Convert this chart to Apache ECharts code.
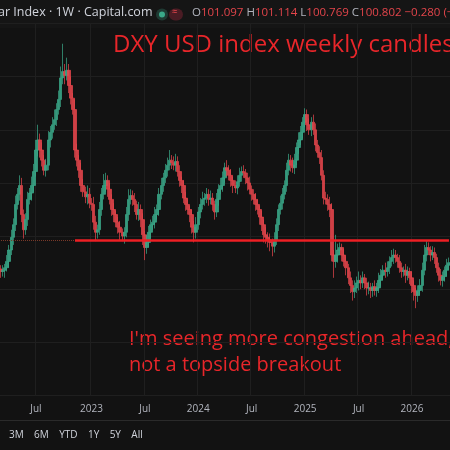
<!DOCTYPE html>
<html><head><meta charset="utf-8">
<script src="https://cdn.jsdelivr.net/npm/echarts@6/dist/echarts.min.js"></script>
<style>html,body{margin:0;padding:0;background:#121212}#c{width:450px;height:450px}</style>
</head><body><div id="c"></div>
<script>
const startDate = '2022-03-04';
const closes = [
98.0,98.1,98.3,98.8,99.7,100.7,101.7,103.3,104.1,104.8,
102.5,101.3,102.1,103.7,104.2,104.8,105.9,107.6,108.4,107.6,
106.8,106.0,106.4,108.4,109.0,109.6,110.0,110.8,111.6,113.3,
113.8,113.5,113.9,112.7,111.7,110.8,107.6,106.8,106.0,104.8,
104.3,103.9,104.1,103.4,103.3,101.9,101.1,101.3,102.9,104.1,
104.8,105.2,104.5,103.7,102.9,102.5,101.9,101.5,101.1,100.8,
101.1,102.5,103.7,104.0,103.7,103.3,102.5,102.9,102.1,100.9,
99.9,100.3,101.1,101.7,101.9,102.5,102.9,104.1,104.8,105.4,
106.0,106.4,106.8,106.6,106.4,106.7,105.9,105.2,104.8,103.8,
103.3,102.9,102.5,101.5,101.1,101.7,102.7,103.3,103.7,103.8,
104.1,103.7,103.8,103.3,102.7,103.7,104.5,104.8,105.4,106.2,
106.0,105.6,105.2,104.8,104.6,105.1,105.6,105.9,105.8,105.4,
105.0,104.5,104.1,103.7,103.3,102.9,102.3,101.7,100.9,100.7,
100.5,100.3,100.0,100.5,101.7,102.9,103.4,104.1,104.8,106.0,
106.8,106.4,106.2,106.8,107.8,108.4,109.0,109.8,110.4,109.6,
109.2,109.8,109.2,108.0,107.4,107.0,105.6,103.8,103.7,103.3,
102.9,99.3,98.8,99.3,99.7,99.9,99.3,98.8,98.3,97.5,
96.9,96.4,96.7,97.1,97.3,97.1,97.5,97.1,96.7,96.7,
96.5,96.8,96.5,96.7,97.3,97.7,98.1,98.0,98.3,98.8,
99.1,99.3,99.1,98.8,98.3,98.0,98.1,97.7,98.0,97.5,
96.9,96.4,96.1,96.5,96.9,98.1,99.3,99.9,99.7,99.3,
99.5,99.1,98.3,97.7,97.3,97.6,98.1,98.5,98.7];
const upperWick = [
0.3,0.4,0.3,0.5,0.4,0.6,0.5,0.7,0.5,0.8,
0.6,0.4,0.5,0.6,0.4,0.7,0.6,0.8,1.2,0.5,
0.6,0.4,0.5,0.7,0.5,0.6,0.8,0.5,0.7,0.9,
2.2,0.6,1.0,0.5,0.7,0.4,0.8,0.5,0.4,0.6,
0.5,0.4,0.7,0.5,0.4,0.6,0.5,0.4,0.6,0.5,
0.9,0.6,0.4,0.5,0.4,0.5,0.3,0.4,0.5,0.3,
0.4,0.6,0.8,0.5,0.4,0.5,0.3,0.6,0.4,0.5,
0.3,0.6,0.5,0.4,0.5,0.6,0.4,0.5,0.6,0.4,
0.5,0.6,0.8,0.4,0.5,0.6,0.4,0.5,0.3,0.4,
0.5,0.4,0.3,0.4,0.5,0.6,0.4,0.5,0.6,0.4,
0.5,0.4,0.6,0.4,0.3,0.5,0.4,0.6,0.5,0.4,
0.6,0.4,0.5,0.3,0.4,0.5,0.6,0.4,0.5,0.3,
0.4,0.5,0.3,0.4,0.5,0.4,0.3,0.5,0.4,0.6,
0.4,0.5,0.3,0.6,0.5,0.4,0.6,0.5,0.4,0.6,
0.5,0.4,0.6,0.5,0.4,0.6,0.5,0.4,0.5,0.4,
0.5,0.4,0.6,0.5,0.4,0.5,0.6,0.4,0.5,0.4,
0.6,0.5,0.4,1.6,0.5,0.4,0.3,0.5,0.4,0.3,
0.5,0.4,0.6,0.5,0.7,0.4,0.5,0.3,0.4,0.5,
0.4,0.3,0.5,0.4,0.6,0.5,0.4,0.6,0.5,0.4,
0.6,0.5,0.4,0.3,0.5,0.4,0.3,0.5,0.4,0.3,
0.5,0.4,0.3,0.4,0.5,0.6,0.8,0.5,0.4,0.3,
0.5,0.4,0.3,0.4,0.5,0.4,0.3,0.5,0.4];
const lowerWick = [
0.5,0.4,0.6,0.3,0.5,0.4,0.6,0.5,0.4,0.5,
0.6,0.7,0.4,0.5,0.4,0.6,0.5,0.4,0.5,0.6,
0.5,0.4,0.5,0.4,0.6,0.5,0.4,0.5,0.4,0.6,
0.5,0.7,0.4,0.6,0.5,0.4,0.6,0.5,0.6,0.5,
0.4,0.5,0.6,0.4,0.5,0.6,0.7,0.5,0.4,0.5,
0.4,0.5,0.6,0.4,0.5,0.6,0.4,0.5,0.6,0.4,
0.6,0.4,0.5,0.4,0.5,0.6,0.4,0.5,0.6,0.8,
1.0,0.5,0.4,0.5,0.4,0.5,0.4,0.5,0.4,0.5,
0.4,0.5,0.4,0.5,0.4,0.5,0.4,0.5,0.6,0.4,
0.5,0.4,0.6,0.5,0.8,0.5,0.4,0.5,0.4,0.5,
0.4,0.5,0.4,0.5,0.6,0.4,0.5,0.4,0.5,0.4,
0.5,0.4,0.5,0.6,0.4,0.5,0.4,0.5,0.4,0.5,
0.6,0.4,0.5,0.4,0.5,0.4,0.6,0.5,0.6,0.5,
0.6,0.7,0.8,0.5,0.4,0.5,0.4,0.5,0.4,0.5,
0.4,0.5,0.4,0.5,0.4,0.5,0.4,0.5,0.4,0.5,
0.4,0.5,0.4,0.5,0.4,0.5,0.4,0.5,0.4,0.5,
0.6,0.5,1.3,0.5,0.6,0.4,0.5,0.4,0.6,0.5,
0.6,0.7,0.5,0.4,0.6,0.5,0.4,0.5,0.6,0.5,
0.6,0.5,0.4,0.5,0.4,0.5,0.4,0.5,0.4,0.5,
0.4,0.5,0.4,0.5,0.4,0.5,0.4,0.6,0.4,0.5,
0.6,0.7,1.0,0.5,0.4,0.5,0.4,0.5,0.4,0.5,
0.4,0.5,0.4,0.5,0.4,0.5,0.4,0.5,0.4];
const lineLevel = 100.5;
const lineStartIndex = 36;

const dates = [];
const d0 = new Date(startDate + 'T00:00:00Z');
for (let i = 0; i < closes.length; i++) {
  const d = new Date(d0.getTime() + i * 7 * 86400000);
  dates.push(d.toISOString().slice(0,10));
}
const candles = closes.map((c, i) => {
  const o = i === 0 ? 98.2 : closes[i-1];
  return [o, c, Math.min(o,c) - lowerWick[i], Math.max(o,c) + upperWick[i]];
});
function isMark(v){
  const m = +v.slice(5,7), day = +v.slice(8,10);
  return (m === 1 || m === 7) && day <= 7;
}
const chart = echarts.init(document.getElementById('c'));
chart.setOption({
  backgroundColor: '#121212',
  animation: false,
  grid: {left: 0, right: 0, top: 23.5, bottom: 54.5},
  xAxis: {
    type: 'category', data: dates, boundaryGap: true,
    axisLine: {show: false}, axisTick: {show: false},
    axisLabel: {
      interval: (i, v) => isMark(v),
      formatter: v => { const m = +v.slice(5,7); return m === 1 ? v.slice(0,4) : 'Jul'; },
      color: '#b2b5be', fontSize: 10, fontFamily: 'Open Sans', margin: 9
    },
    splitLine: {show: true, interval: (i, v) => isMark(v), lineStyle: {color: '#1f1f1f', width: 1}}
  },
  yAxis: {
    type: 'value', min: 88.2, max: 117.6, interval: 4.2, show: true,
    axisLabel: {show: false}, axisLine: {show: false}, axisTick: {show: false},
    splitLine: {lineStyle: {color: '#1f1f1f'}}
  },
  series: [{
    type: 'candlestick', data: candles, barWidth: 3, large: false,
    itemStyle: {color: '#3aa889', color0: '#e4454b', borderColor: '#3aa889', borderColor0: '#e4454b', borderWidth: 0.8, opacity: 0.9},
    markLine: {
      silent: true, symbol: 'none', label: {show: false},
      data: [
        [{coord: [lineStartIndex, lineLevel], lineStyle: {color: '#ee1f24', width: 2.5, type: 'solid'}},
         {coord: [closes.length - 1, lineLevel]}],
        [{coord: [0, lineLevel], lineStyle: {color: '#7a3a2a', width: 1, type: 'dotted'}},
         {coord: [lineStartIndex, lineLevel]}]
      ]
    }
  }],
  graphic: [
    {type: 'rect', shape: {x: 0, y: 0, width: 450, height: 28}, style: {fill: '#151515'}},
    {type: 'rect', shape: {x: 0, y: 420, width: 450, height: 1}, style: {fill: '#2a2a2a'}},
    {type: 'text', left: -2, top: 6, style: {text: 'ar Index · 1W · Capital.com', fill: '#d1d4dc', font: '12.5px "Open Sans"'}},
    {type: 'circle', shape: {cx: 162, cy: 14.5, r: 6}, style: {fill: '#1f3a33'}},
    {type: 'circle', shape: {cx: 162, cy: 14.5, r: 3}, style: {fill: '#3aa889'}},
    {type: 'rect', shape: {x: 169, y: 8.5, width: 14, height: 12, r: 6}, style: {fill: '#4a1c24'}},
    {type: 'text', left: 172, top: 7, style: {text: '≈', fill: '#e4454b', font: '10px "Open Sans"'}},
    {type: 'text', left: 192, top: 7, style: {
      rich: {l: {fill: '#b2b5be', font: '11.5px "Open Sans"'}, v: {fill: '#e4454b', font: '11.5px "Open Sans"'}},
      text: '{l|O}{v|101.097 }{l|H}{v|101.114 }{l|L}{v|100.769 }{l|C}{v|100.802 −0.280 (−0.28%)}'}},
    {type: 'text', left: 113, top: 33, style: {text: 'DXY USD index weekly candles', fill: '#e8262a', font: '24px "Open Sans"'}},
    {type: 'text', left: 129, top: 329, style: {text: "I'm seeing more congestion ahead,", fill: '#e8262a', font: '20px "Open Sans"'}},
    {type: 'text', left: 129, top: 355, style: {text: 'not a topside breakout', fill: '#e8262a', font: '20px "Open Sans"'}},
    {type: 'text', left: 9, top: 430, style: {text: '3M    6M    YTD    1Y    5Y    All', fill: '#d1d4dc', font: '10px "Open Sans"'}}
  ]
});
</script></body></html>
